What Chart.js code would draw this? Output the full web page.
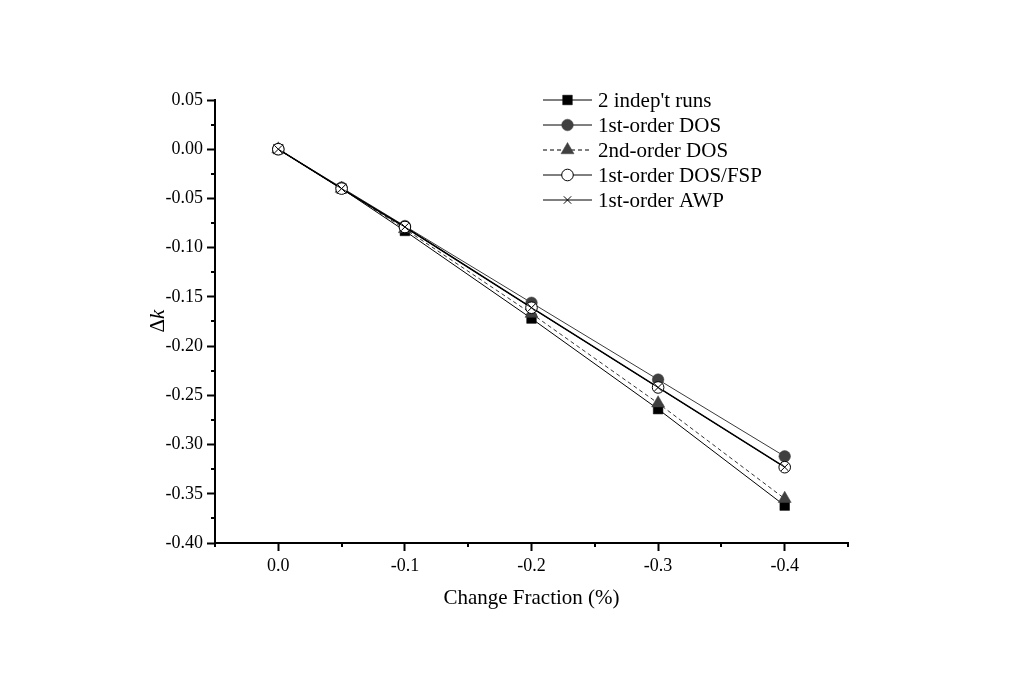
<!DOCTYPE html>
<html>
<head>
<meta charset="utf-8">
<script src="https://cdn.jsdelivr.net/npm/chart.js@4/dist/chart.umd.min.js"></script>
<style>
html,body{margin:0;padding:0;background:#fff;}
canvas{display:block;}
</style>
</head>
<body>
<canvas id="c" width="1020" height="695"></canvas>
<script>
// ---- data ----
const xValues = [0, -0.05, -0.1, -0.2, -0.3, -0.4];
const indepRuns = [0, -0.040, -0.083, -0.172, -0.264, -0.362];
const dos1st = [0, -0.039, -0.078, -0.156, -0.234, -0.312];
const dos2nd = [0, -0.040, -0.081, -0.167, -0.258, -0.355];
const dosFsp = [0, -0.040, -0.079, -0.161, -0.242, -0.323];
const awp1st = [0, -0.040, -0.079, -0.161, -0.242, -0.323];
const seriesNames = ["2 indep't runs", "1st-order DOS", "2nd-order DOS", "1st-order DOS/FSP", "1st-order AWP"];
const xTickValues = [0, -0.1, -0.2, -0.3, -0.4];
const xMinorValues = [-0.05, -0.15, -0.25, -0.35, -0.45];
const yTickValues = [0.05, 0, -0.05, -0.10, -0.15, -0.20, -0.25, -0.30, -0.35, -0.40];
const yMinorValues = [0.025, -0.025, -0.075, -0.125, -0.175, -0.225, -0.275, -0.325, -0.375];
const xTitle = "Change Fraction (%)";

const pts = arr => arr.map((v, i) => ({x: xValues[i], y: v}));
const FONT = "'Liberation Serif', 'Times New Roman', serif";

const styles = [
  {borderColor:'#000', borderWidth:1, pointStyle:'rect', pointRadius:6.8, pointBackgroundColor:'#000', pointBorderColor:'#000', pointBorderWidth:0.5, borderDash:[], order:5},
  {borderColor:'#3a3a3a', borderWidth:1, pointStyle:'circle', pointRadius:5.8, pointBackgroundColor:'#404040', pointBorderColor:'#404040', pointBorderWidth:0.5, borderDash:[], order:4},
  {borderColor:'#333', borderWidth:1, pointStyle:'triangle', pointRadius:7.5, pointBackgroundColor:'#404040', pointBorderColor:'#404040', pointBorderWidth:0.5, borderDash:[4,3], order:3},
  {borderColor:'#000', borderWidth:1.5, pointStyle:'circle', pointRadius:5.8, pointBackgroundColor:'#fff', pointBorderColor:'#000', pointBorderWidth:1, borderDash:[], order:2},
  {borderColor:'#000', borderWidth:1, pointStyle:'crossRot', pointRadius:5.2, pointBackgroundColor:'#000', pointBorderColor:'#000', pointBorderWidth:1, borderDash:[], order:1}
];
const seriesData = [indepRuns, dos1st, dos2nd, dosFsp, awp1st];

const datasets = seriesData.map((arr, i) => Object.assign({
  label: seriesNames[i],
  data: pts(arr),
  showLine: true,
  fill: false,
  tension: 0,
  pointHoverRadius: styles[i].pointRadius
}, styles[i]));

function drawMarker(ctx, st, x, y) {
  ctx.save();
  ctx.fillStyle = st.pointBackgroundColor;
  ctx.strokeStyle = st.pointBorderColor;
  ctx.lineWidth = st.pointBorderWidth;
  const r = st.pointRadius;
  ctx.beginPath();
  if (st.pointStyle === 'rect') {
    const s = Math.SQRT1_2 * r;
    ctx.rect(x - s, y - s, 2*s, 2*s);
    ctx.fill(); ctx.stroke();
  } else if (st.pointStyle === 'circle') {
    ctx.arc(x, y, r, 0, Math.PI*2);
    ctx.fill(); ctx.stroke();
  } else if (st.pointStyle === 'triangle') {
    let a = 0;
    ctx.moveTo(x + Math.sin(a)*r, y - Math.cos(a)*r);
    a += 2*Math.PI/3;
    ctx.lineTo(x + Math.sin(a)*r, y - Math.cos(a)*r);
    a += 2*Math.PI/3;
    ctx.lineTo(x + Math.sin(a)*r, y - Math.cos(a)*r);
    ctx.closePath();
    ctx.fill(); ctx.stroke();
  } else if (st.pointStyle === 'crossRot') {
    const o = r * Math.SQRT1_2;
    ctx.moveTo(x - o, y - o); ctx.lineTo(x + o, y + o);
    ctx.moveTo(x - o, y + o); ctx.lineTo(x + o, y - o);
    ctx.stroke();
  }
  ctx.restore();
}

const extrasPlugin = {
  id: 'extras',
  afterDraw(chart) {
    const ctx = chart.ctx;
    const xs = chart.scales.x, ys = chart.scales.y;
    const ca = chart.chartArea;
    // minor ticks
    ctx.save();
    ctx.strokeStyle = '#000';
    ctx.lineWidth = 2;
    ctx.beginPath();
    yMinorValues.forEach(v => {
      const py = Math.round(ys.getPixelForValue(v));
      ctx.moveTo(ca.left - 4, py); ctx.lineTo(ca.left, py);
    });
    xMinorValues.forEach(v => {
      const px = Math.round(xs.getPixelForValue(v));
      ctx.moveTo(px, ca.bottom); ctx.lineTo(px, ca.bottom + 4);
    });
    // y axis slight overshoot below x axis
    ctx.moveTo(ca.left, ca.bottom); ctx.lineTo(ca.left, ca.bottom + 4);
    ctx.stroke();
    ctx.restore();

    // y-axis title: upright Delta, italic k
    ctx.save();
    ctx.translate(158, 321);
    ctx.rotate(-Math.PI/2);
    ctx.fillStyle = '#000';
    ctx.textBaseline = 'middle';
    ctx.font = "21px " + FONT;
    const wD = ctx.measureText('\u0394').width;
    ctx.font = "italic 21px " + FONT;
    const wk = ctx.measureText('k').width;
    const start = -(wD + wk) / 2;
    ctx.font = "21px " + FONT;
    ctx.textAlign = 'left';
    ctx.fillText('\u0394', start, 0);
    ctx.font = "italic 21px " + FONT;
    ctx.fillText('k', start + wD, 0);
    ctx.restore();

    // legend
    ctx.save();
    const lx0 = 543, lx1 = 592, tx = 598, y0 = 100, dy = 25;
    seriesNames.forEach((name, i) => {
      const st = styles[i];
      const y = y0 + dy * i;
      ctx.save();
      ctx.strokeStyle = '#000';
      ctx.lineWidth = 1;
      ctx.setLineDash(st.borderDash);
      ctx.beginPath();
      ctx.moveTo(lx0, y); ctx.lineTo(lx1, y);
      ctx.stroke();
      ctx.restore();
      drawMarker(ctx, st, (lx0 + lx1) / 2, y);
      ctx.fillStyle = '#000';
      ctx.font = "21px " + FONT;
      ctx.textAlign = 'left';
      ctx.textBaseline = 'middle';
      ctx.fillText(name, tx, y + 1);
    });
    ctx.restore();
  }
};

new Chart(document.getElementById('c'), {
  type: 'scatter',
  data: { datasets },
  options: {
    responsive: false,
    animation: false,
    devicePixelRatio: 1,
    layout: { padding: { left: 147, top: 100, right: 172, bottom: 84 } },
    plugins: { legend: { display: false }, tooltip: { enabled: false } },
    scales: {
      x: {
        type: 'linear',
        reverse: true,
        min: -0.45,
        max: 0.05,
        afterBuildTicks: s => { s.ticks = xTickValues.map(v => ({value: v})); },
        afterFit: s => { s.height = 68; },
        border: { display: true, color: '#000', width: 2 },
        grid: { drawOnChartArea: false, drawTicks: true, tickLength: 8, tickColor: '#000', tickWidth: 2 },
        ticks: {
          color: '#000',
          font: { family: FONT, size: 18 },
          padding: 4,
          maxRotation: 0,
          autoSkip: false,
          callback: v => Number(v).toFixed(1)
        },
        title: {
          display: true,
          text: xTitle,
          color: '#000',
          font: { family: FONT, size: 21 },
          padding: 0
        }
      },
      y: {
        type: 'linear',
        min: -0.40,
        max: 0.05,
        afterBuildTicks: s => { s.ticks = yTickValues.map(v => ({value: v})); },
        afterFit: s => { s.width = 68; },
        border: { display: true, color: '#000', width: 2 },
        grid: { drawOnChartArea: false, drawTicks: true, tickLength: 8, tickColor: '#000', tickWidth: 2 },
        ticks: {
          color: '#000',
          font: { family: FONT, size: 18 },
          padding: 4,
          autoSkip: false,
          callback: v => (Math.abs(v) < 1e-9 ? 0 : Number(v)).toFixed(2)
        },
        title: { display: false }
      }
    }
  },
  plugins: [extrasPlugin]
});
</script>
</body>
</html>
